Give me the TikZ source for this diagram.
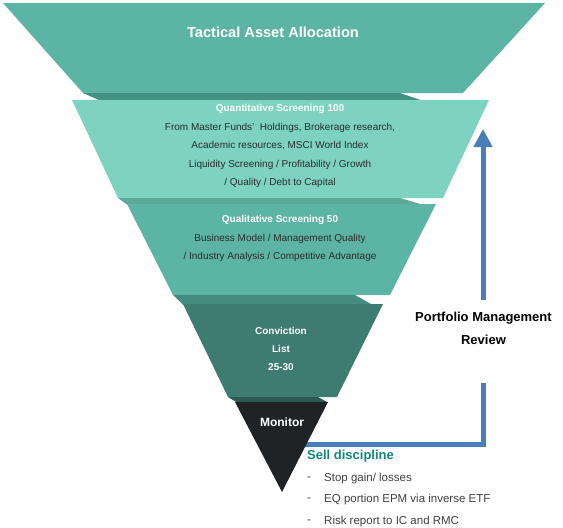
\documentclass[tikz,border=0pt]{standalone}
\usepackage{fontspec}
\setmainfont{Liberation Sans}
\usetikzlibrary{arrows.meta}
\definecolor{layerA}{HTML}{5CB4A4}
\definecolor{layerB}{HTML}{7DD3C0}
\definecolor{layerC}{HTML}{5CB4A4}
\definecolor{layerD}{HTML}{3E7B71}
\definecolor{layerE}{HTML}{1F2326}
\definecolor{bandA}{HTML}{419283}
\definecolor{bandB}{HTML}{5BA998}
\definecolor{bandC}{HTML}{458C80}
\definecolor{bandD}{HTML}{2D5A53}
\definecolor{arrowblue}{HTML}{4A7EBB}
\definecolor{sellteal}{HTML}{12877A}
\definecolor{bodytext}{HTML}{2B2B2B}
\definecolor{listtext}{HTML}{404040}
\tikzset{
  whitetitle/.style={text=white,font=\bfseries\fontsize{10}{12}\selectfont,inner sep=0pt},
  bodyblock/.style={text=bodytext,align=center,inner sep=0pt},
  blueline/.style={draw=arrowblue,line width=5pt,line join=miter},
  listitem/.style={text=listtext,anchor=west,inner sep=0pt,font=\fontsize{11.5}{13}\selectfont},
}
\begin{document}
\begin{tikzpicture}[x=1pt,y=-1pt]
\useasboundingbox (0,0) rectangle (563,528);
\fill[white] (0,0) rectangle (563,528);
% connector (drawn behind the funnel)
\coordinate (mstart) at (296,444);
\coordinate (pmrbot) at (483,383);
\coordinate (pmrtop) at (483,300);
\coordinate (tip) at (483,129);
\draw[blueline] (mstart) -| (pmrbot);
\draw[blueline,-{Triangle[width=18pt,length=18pt]}] (pmrtop) -- (tip);
% layer 1
\fill[layerA] (3,3) -- (545,3) -- (463,93) -- (83,93) -- cycle;
\fill[bandA] (83,93) -- (400,93) -- (422,100.5) -- (100,100.5) -- cycle;
% layer 2
\fill[layerB] (72,100) -- (489,100) -- (443,198) -- (118,198) -- cycle;
\fill[bandB] (118,198) -- (400,198) -- (422,204.5) -- (127,204.5) -- cycle;
% layer 3
\fill[layerC] (127,204) -- (436,204) -- (390,295) -- (173,295) -- cycle;
\fill[bandC] (173,295) -- (355,295) -- (372,304.5) -- (183,304.5) -- cycle;
% layer 4
\fill[layerD] (183,304) -- (383,304) -- (337,397) -- (228,397) -- cycle;
\fill[bandD] (228,397) -- (318,397) -- (328,402.5) -- (237,402.5) -- cycle;
% layer 5
\fill[layerE] (235,402) -- (328,402) -- (282,492) -- cycle;
% texts
\node[whitetitle,font=\bfseries\fontsize{14.6}{16}\selectfont] (taa) at (273,32) {Tactical Asset Allocation};
\node[whitetitle] (quant) at (280,109) {Quantitative Screening 100};
\node[bodyblock,font=\fontsize{10}{18.3}\selectfont] (quantbody) at (280,155.5) {From Master Funds’\ \ Holdings, Brokerage research,\\Academic resources, MSCI World Index\\Liquidity Screening / Profitability / Growth\\/ Quality / Debt to Capital};
\node[whitetitle] (qual) at (280,220) {Qualitative Screening 50};
\node[bodyblock,font=\fontsize{10}{18.3}\selectfont] (qualbody) at (280,248) {Business Model / Management Quality\\/ Industry Analysis / Competitive Advantage};
\node[whitetitle,align=center,font=\bfseries\fontsize{10}{18}\selectfont] (conv) at (281,349) {Conviction\\List\\25-30};
\node[whitetitle,font=\bfseries\fontsize{12}{14}\selectfont] (mon) at (282,422) {Monitor};
\node[align=center,inner sep=0pt,font=\bfseries\fontsize{13}{23}\selectfont] (pmr) at (483.5,328.5) {Portfolio Management\\Review};
\node[anchor=west,inner sep=0pt,text=sellteal,font=\bfseries\fontsize{13}{15}\selectfont] (sell) at (307,456) {Sell discipline};
\node[listitem] (d1) at (307,479) {-};
\node[listitem] (d2) at (307,500) {-};
\node[listitem] (d3) at (307,521.5) {-};
\node[listitem] (i1) at (324,479) {Stop gain/ losses};
\node[listitem] (i2) at (324,500) {EQ portion EPM via inverse ETF};
\node[listitem] (i3) at (324,521.5) {Risk report to IC and RMC};
\end{tikzpicture}
\end{document}
